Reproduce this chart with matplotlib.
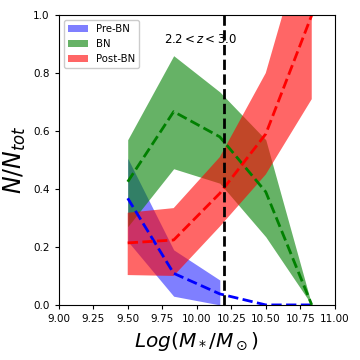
import numpy as np
import matplotlib
matplotlib.use("Agg")
import matplotlib.pyplot as plt

mass = [9.5, 9.833, 10.167, 10.5, 10.833]

pre_mid = [0.368, 0.109, 0.038, 0.0, 0.0]
pre_lo = [0.22, 0.03, 0.0, np.nan, np.nan]
pre_hi = [0.506, 0.19, 0.086, np.nan, np.nan]

bn_mid = [0.425, 0.667, 0.58, 0.39, 0.0]
bn_lo = [0.27, 0.47, 0.42, 0.235, 0.0]
bn_hi = [0.57, 0.86, 0.735, 0.57, 0.0]

post_mid = [0.214, 0.224, 0.385, 0.59, 1.0]
post_lo = [0.103, 0.10, 0.27, 0.45, 0.71]
post_hi = [0.318, 0.334, 0.51, 0.80, 1.35]

z_cut = 10.2
z_label = r"$2.2 < z < 3.0$"

fig = plt.figure(figsize=(3.6, 3.6), dpi=100)
ax = fig.add_axes([0.163, 0.153, 0.767, 0.805])

ax.fill_between(mass, pre_lo, pre_hi, color="b", alpha=0.5, lw=0, label="Pre-BN")
ax.fill_between(mass, bn_lo, bn_hi, color="g", alpha=0.6, lw=0, label="BN")
ax.fill_between(mass, post_lo, post_hi, color="r", alpha=0.6, lw=0, label="Post-BN")

ax.plot(mass, pre_mid, "b--", lw=2)
ax.plot(mass, bn_mid, "g--", lw=2)
ax.plot(mass, post_mid, "r--", lw=2)

ax.axvline(z_cut, color="k", ls="--", lw=2)
ax.text(9.765, 0.915, z_label, fontsize=8.5, va="center", ha="left")

ax.set_xlim(9.0, 11.0)
ax.set_ylim(0.0, 1.0)
ax.set_xticks(np.arange(9.0, 11.01, 0.25))
ax.set_xticklabels([f"{v:.2f}" for v in np.arange(9.0, 11.01, 0.25)])
ax.set_yticks(np.arange(0.0, 1.01, 0.2))
ax.set_yticklabels([f"{v:.1f}" for v in np.arange(0.0, 1.01, 0.2)])
ax.tick_params(labelsize=7.5, length=3)

ax.set_xlabel(r"$Log(M_*/M_\odot)$", fontsize=14.5)
ax.set_ylabel(r"$N/N_{tot}$", fontsize=17)

ax.legend(loc="upper left", fontsize=7.3, framealpha=1)

fig.savefig("out.png", dpi=100)
